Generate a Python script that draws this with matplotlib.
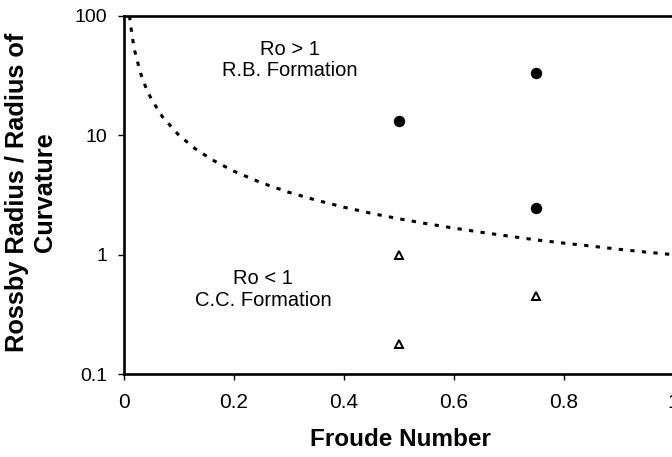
import matplotlib
matplotlib.use("Agg")
import matplotlib.pyplot as plt

plt.rcParams['font.family'] = ['Liberation Sans', 'DejaVu Sans']

# Boundary curve (Ro = 1)
curve_x = [0.01, 0.015, 0.02, 0.03, 0.04, 0.05, 0.07, 0.1, 0.13, 0.16, 0.2, 0.25, 0.3, 0.35,
           0.4, 0.45, 0.5, 0.55, 0.6, 0.65, 0.7, 0.75, 0.8, 0.85, 0.9, 0.95, 1.0]
curve_y = [100, 66.7, 50, 33.3, 25, 20, 14.3, 10, 7.7, 6.25, 5, 4, 3.33, 2.86,
           2.5, 2.22, 2, 1.82, 1.67, 1.54, 1.43, 1.33, 1.25, 1.18, 1.11, 1.05, 1.0]

# Ro > 1 (R.B. formation) observations
rb_x = [0.5, 0.75, 0.75]
rb_y = [13.2, 33.4, 2.46]

# Ro < 1 (C.C. formation) observations
cc_x = [0.5, 0.5, 0.75]
cc_y = [1.0, 0.178, 0.45]

x_ticks = [0, 0.2, 0.4, 0.6, 0.8, 1]
x_tick_labels = ['0', '0.2', '0.4', '0.6', '0.8', '1']
y_ticks = [0.1, 1, 10, 100]
y_tick_labels = ['0.1', '1', '10', '100']

fig = plt.figure(figsize=(6.72, 4.57), dpi=100)
ax = fig.add_axes([0.1845, 0.1816, 0.818, 0.7834])

ax.plot(curve_x, curve_y, color='black', linewidth=2.2, linestyle=(0, (1.4, 2.4)))
ax.plot(rb_x, rb_y, linestyle='none', marker='o', markersize=7.2, color='black')
ax.plot(cc_x, cc_y, linestyle='none', marker='^', markersize=6, markerfacecolor='white',
        markeredgecolor='black', markeredgewidth=1.4)

ax.set_yscale('log')
ax.set_xlim(0, 1)
ax.set_ylim(0.1, 100)
ax.set_xticks(x_ticks)
ax.set_xticklabels(x_tick_labels)
ax.set_yticks(y_ticks)
ax.set_yticklabels(y_tick_labels)
ax.minorticks_off()
ax.tick_params(axis='both', direction='out', length=4, width=1)
ax.tick_params(axis='y', labelsize=14, pad=8)
ax.tick_params(axis='x', labelsize=15, pad=10)

for s in ['top', 'bottom', 'left']:
    ax.spines[s].set_linewidth(1.9)
ax.spines['right'].set_visible(False)

fig.text(400 / 672, 1 - 440 / 457, 'Froude Number', fontsize=17.5, fontweight='bold',
         ha='center', va='center')
fig.text(31 / 672, 1 - 192.5 / 457, 'Rossby Radius / Radius of\nCurvature', fontsize=18.3,
         fontweight='bold', rotation=90, ha='center', va='center', multialignment='center',
         linespacing=1.2)

ax.text(0.302, 0.877, 'Ro > 1\nR.B. Formation', transform=ax.transAxes, ha='center',
        va='center', fontsize=14.5, linespacing=1.15)
ax.text(0.253, 0.236, 'Ro < 1\nC.C. Formation', transform=ax.transAxes, ha='center',
        va='center', fontsize=14.5, linespacing=1.15)

fig.savefig('out.png', dpi=100)
